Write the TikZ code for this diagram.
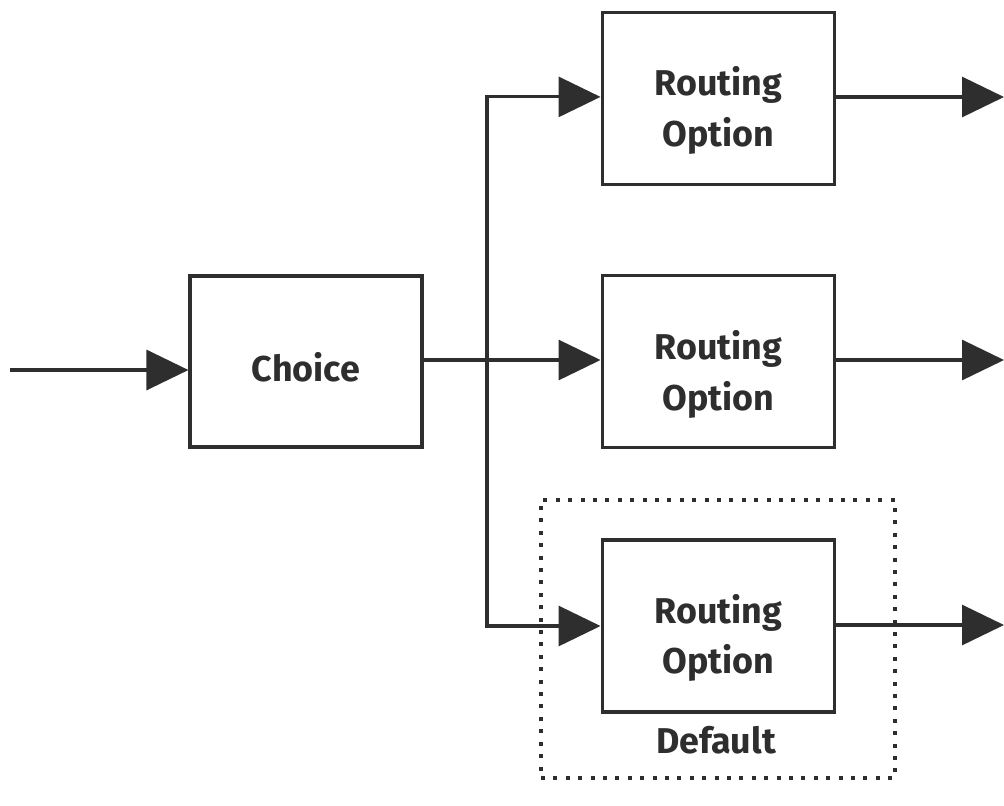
\documentclass[tikz,border=0pt]{standalone}
\usepackage{fontspec}
\setmainfont{Fira Sans}
\usepackage{tikz}
\usetikzlibrary{arrows.meta, positioning}
\definecolor{ink}{HTML}{2E2E2E}

\begin{document}
\begin{tikzpicture}[
    x=0.025cm, y=-0.025cm,
    font=\fontsize{25.5}{36}\selectfont\bfseries,
    box/.style={rectangle,draw=ink,line width=2.2pt,minimum width=5.82cm,minimum height=4.3cm},
    txt/.style={text=ink,align=center},
    arr/.style={draw=ink,line width=2.2pt,-{Triangle[length=1.05cm,width=1cm]}},
    link/.style={draw=ink,line width=2.2pt}
    ]
    \useasboundingbox (0,0) rectangle (1004,805);

    % Nodes
    \node[box, minimum width=5.8cm, minimum height=4.275cm] (choice) at (306,361.5) {};
    \node[box] (top) at (718.5,98.5) {};
    \node[box] (mid) at (718.5,361.5) {};
    \node[box] (bot) at (718.5,626) {};

    % Texts
    \node[txt] (choicelbl) at ([yshift=-0.15cm]choice) {Choice};
    \node[txt] (toplbl) at ([yshift=-0.3cm]top) {Routing\\Option};
    \node[txt] (midlbl) at ([yshift=-0.32cm]mid) {Routing\\Option};
    \node[txt] (botlbl) at ([yshift=-0.3cm]bot) {Routing\\Option};

    % Default group
    \node[draw=ink,line width=2.8pt,dash pattern=on 0.1cm off 0.21cm,minimum width=8.85cm,minimum height=6.95cm] (default) at (718,639) {};
    \node[txt] (deflabel) at (716,740) {Default};

    % Free ends
    \coordinate (in) at (10,370);
    \coordinate (split) at (487,360);
    \coordinate (outtop) at (1004,97);
    \coordinate (outmid) at (1004,360);
    \coordinate (outbot) at (1004,625);

    % Input and choice
    \draw[arr] (in) -- (choice.west |- in);
    \draw[arr] (choice.east |- split) -- (mid.west |- split);

    % Branches to the other options
    \draw[link] (split) -- (split |- bot.west);
    \draw[arr] (split) |- ([yshift=0.04cm]top.west);
    \draw[arr] (split) |- (bot.west);

    % Outputs
    \draw[arr] (top.east |- outtop) -- (outtop);
    \draw[arr] (mid.east |- outmid) -- (outmid);
    \draw[arr] (bot.east |- outbot) -- (outbot);
\end{tikzpicture}
\end{document}
